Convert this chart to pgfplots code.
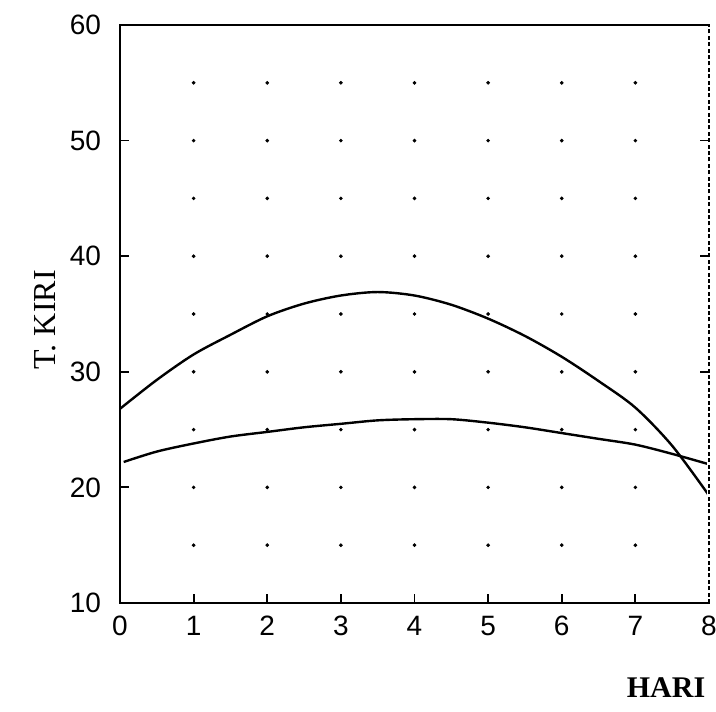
\documentclass[border=0pt]{standalone}
\usepackage{fontspec}
\usepackage{pgfplots}
\pgfplotsset{compat=1.18}
\setmainfont{Liberation Serif}
\newfontfamily\tickfont{Liberation Sans}
\begin{document}
\begin{tikzpicture}
\path[use as bounding box] (-60pt,-54pt) rectangle (298pt,301.5pt);
\begin{axis}[
  at={(0,0)}, anchor=south west,
  scale only axis, width=294.5pt, height=289pt,
  xmin=0, xmax=8, ymin=10, ymax=60,
  xtick={0,1,...,8}, ytick={10,20,...,60},
  major tick length=0pt,
  axis line style={line width=1.1pt},
  ticklabel style={font=\tickfont\fontsize{14}{14}\selectfont},
  xticklabel style={yshift=-3pt},
  yticklabel style={xshift=-6pt},
  /pgf/number format/assume math mode=true,
  clip=false,
]
% grid dots
\addplot[only marks, mark=*, mark size=0.7pt, black] coordinates {
(1,15)(1,20)(1,25)(1,30)(1,35)(1,40)(1,45)(1,50)(1,55)
(2,15)(2,20)(2,25)(2,30)(2,35)(2,40)(2,45)(2,50)(2,55)
(3,15)(3,20)(3,25)(3,30)(3,35)(3,40)(3,45)(3,50)(3,55)
(4,15)(4,20)(4,25)(4,30)(4,35)(4,40)(4,45)(4,50)(4,55)
(5,15)(5,20)(5,25)(5,30)(5,35)(5,40)(5,45)(5,50)(5,55)
(6,15)(6,20)(6,25)(6,30)(6,35)(6,40)(6,45)(6,50)(6,55)
(7,15)(7,20)(7,25)(7,30)(7,35)(7,40)(7,45)(7,50)(7,55)
};
% upper curve
\addplot[black, line width=1.2pt, smooth] coordinates {
(0,26.8)(0.5,29.3)(1,31.5)(1.5,33.2)(2,34.8)(2.5,35.9)(3,36.6)(3.5,36.9)
(4,36.6)(4.5,35.8)(5,34.6)(5.5,33.1)(6,31.3)(6.5,29.2)(7,26.9)(7.5,23.6)(8,19.3)
};
% lower curve
\addplot[black, line width=1.2pt, smooth] coordinates {
(0.05,22.2)(0.5,23.1)(1,23.8)(1.5,24.4)(2,24.8)(2.5,25.2)(3,25.5)(3.5,25.8)
(4,25.9)(4.5,25.9)(5,25.6)(5.5,25.2)(6,24.7)(6.5,24.2)(7,23.7)(7.5,22.9)(8,22.0)
};
\node[xshift=-37.5pt, rotate=90, font=\fontsize{16}{16}\selectfont] at (rel axis cs:0,0.49) {T. KIRI};
\node[xshift=273pt, yshift=-42.5pt, font=\bfseries\fontsize{15}{15}\selectfont] at (rel axis cs:0,0) {HARI};
\end{axis}
% inward ticks (axis is 294.5pt x 289pt; 36.8125pt per day, 5.78pt per unit)
\foreach \k in {1,...,7} {
  \draw[line width=0.9pt] ({36.8125pt*\k},0pt) -- ({36.8125pt*\k},4.5pt);
}
\foreach \v in {20,30,40,50} {
  \draw[line width=0.9pt] (0pt,{5.78pt*(\v-10)}) -- (4.5pt,{5.78pt*(\v-10)});
}
% right side of frame dashed
\draw[white, line width=2pt] (294.5pt,1.2pt) -- (294.5pt,287.8pt);
\draw[line width=0.8pt, dash pattern=on 2pt off 1.2pt] (294.5pt,0pt) -- (294.5pt,289pt);
\foreach \v in {30,40,50} {
  \draw[line width=0.9pt] (290pt,{5.78pt*(\v-10)}) -- (294.5pt,{5.78pt*(\v-10)});
}
\end{tikzpicture}
\end{document}
